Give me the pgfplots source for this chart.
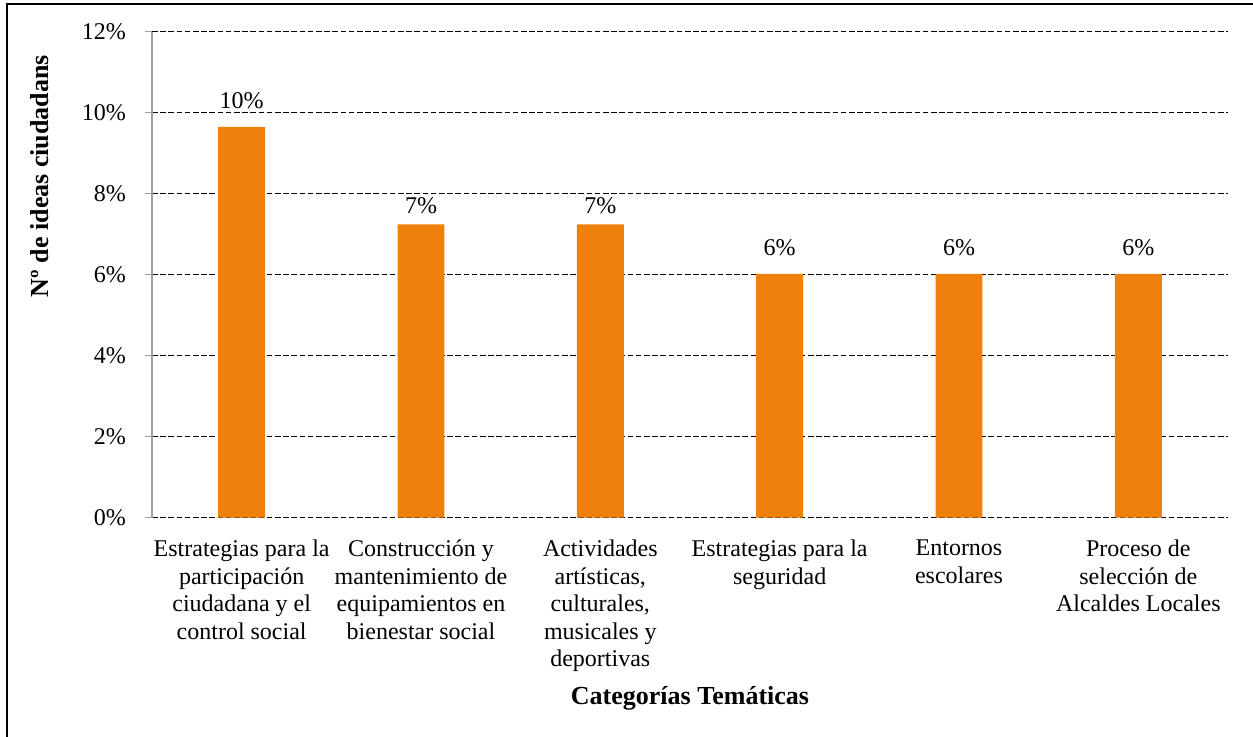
\documentclass[border=0pt]{standalone}
\usepackage{pgfplots}
\usepackage{pgfplotstable}
\pgfplotsset{compat=1.18}
\usepackage{fontspec}
\setmainfont{Liberation Serif}
\definecolor{barorange}{RGB}{240,128,12}
\definecolor{axisgray}{RGB}{160,160,160}
\newcommand{\tf}{\fontsize{12}{13.8}\selectfont}
\newcommand{\lf}{\fontsize{13}{15}\selectfont\bfseries}
\pgfplotstableread{
x y off
0 9.65 5.5
1 7.24 2
2 7.24 2
3 6.02 5.5
4 6.02 5.5
5 6.02 5.5
}\datatable
\begin{document}
\begin{tikzpicture}
\useasboundingbox (-76pt,-109.15pt) rectangle (550.5pt,258.85pt);
\draw[line width=0.8pt] (-72.5pt,-120pt) -- (-72.5pt,256.85pt) -- (560pt,256.85pt);
\begin{axis}[
  scale only axis,
  width=538pt, height=243pt,
  at={(0,0)}, anchor=south west,
  ybar, bar width=0.262,
  xmin=-0.5, xmax=5.5,
  ymin=0, ymax=12,
  ytick={0,2,4,6,8,10,12},
  yticklabel={\pgfmathprintnumber{\tick}\%},
  /pgf/number format/assume math mode=true,
  xtick={0,1,2,3,4,5},
  xticklabels={{Estrategias para la\\participación\\ciudadana y el\\control social},
               {Construcción y\\mantenimiento de\\equipamientos en\\bienestar social},
               {Actividades\\artísticas,\\culturales,\\musicales y\\deportivas},
               {Estrategias para la\\seguridad},
               {Entornos\\escolares},
               {Proceso de\\selección de\\Alcaldes Locales}},
  xticklabel style={font=\tf, align=center, anchor=north, yshift=-4pt},
  yticklabel style={font=\tf, xshift=-6pt},
  axis x line*=bottom,
  x axis line style={draw=none},
  axis y line*=left,
  y axis line style={draw=axisgray, line width=0.6pt, -},
  ytick style={draw=axisgray, line width=0.6pt},
  tick align=outside,
  major tick length=3.5pt,
  xtick style={draw=none},
  ymajorgrids,
  grid style={black, line width=0.65pt, dash pattern=on 2.8pt off 1.3pt},
  clip=false,
]
\addplot[fill=barorange, draw=none,
  visualization depends on={\thisrow{off}\as\off},
  nodes near coords={\pgfmathprintnumber[fixed,precision=0]{\pgfplotspointmeta}\%},
  every node near coord/.append style={font=\tf, black, yshift=\off pt},
] table[x=x, y=y] {\datatable};
\node[font=\lf, rotate=90, anchor=center] at ([xshift=-56pt]rel axis cs:0,0.703) {Nº de ideas ciudadans};
\node[font=\lf, anchor=center] at ([yshift=-90.2pt]rel axis cs:0.5,0) {Categorías Temáticas};
\end{axis}
\end{tikzpicture}
\end{document}
